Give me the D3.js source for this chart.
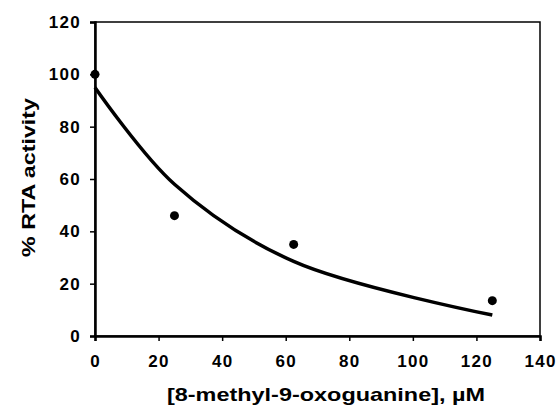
<!DOCTYPE html>
<html>
<head>
<meta charset="utf-8">
<script src="https://cdn.jsdelivr.net/npm/d3@7"></script>
<style>
  body { margin: 0; background: #fff; }
  svg text { font-family: "Liberation Sans", Arial, sans-serif; font-weight: bold; fill: #000; }
</style>
</head>
<body>
<svg id="chart"></svg>
<script>
// measured points
const conc = [0, 25, 62.5, 125];
const activity = [100, 46, 35, 13.5];
// fitted curve drawn through the same concentrations
const fitted = [95, 58, 28.5, 8];

const xTicks = [0, 20, 40, 60, 80, 100, 120, 140];
const yTicks = [0, 20, 40, 60, 80, 100, 120];

const svgWidth = 557;
const svgHeight = 410;
const margin = { top: 22, right: 17, bottom: 74, left: 95 };

const xScale = d3.scaleLinear()
    .domain([0, 140])
    .range([margin.left, svgWidth - margin.right]);

const yScale = d3.scaleLinear()
    .domain([0, 120])
    .range([svgHeight - margin.bottom, margin.top]);

const svg = d3.select("#chart")
    .attr("width", svgWidth)
    .attr("height", svgHeight);

// plot frame
svg.append("rect")
    .attr("x", xScale(0))
    .attr("y", yScale(120))
    .attr("width", xScale(140) - xScale(0))
    .attr("height", yScale(0) - yScale(120))
    .attr("fill", "none")
    .attr("stroke", "#000")
    .attr("stroke-width", 1.5);

const xAxis = svg.append("g")
    .attr("transform", `translate(0,${yScale(0)})`)
    .call(d3.axisBottom(xScale).tickValues(xTicks).tickSize(5).tickPadding(14));

const yAxis = svg.append("g")
    .attr("transform", `translate(${xScale(0)},0)`)
    .call(d3.axisLeft(yScale).tickValues(yTicks).tickSize(5).tickPadding(9));

[xAxis, yAxis].forEach(g => {
    g.select(".domain").attr("stroke-width", 2.5);
    g.selectAll(".tick line").attr("stroke-width", 1.5);
    g.selectAll(".tick text")
        .style("font-size", "17px")
        .style("letter-spacing", "1.3px")
        .style("font-family", "'Liberation Sans', Arial, sans-serif")
        .style("font-weight", "bold");
});

const line = d3.line()
    .x((d, i) => xScale(conc[i]))
    .y(d => yScale(d))
    .curve(d3.curveCatmullRom);

svg.append("path")
    .datum(fitted)
    .attr("fill", "none")
    .attr("stroke", "#000")
    .attr("stroke-width", 3.5)
    .attr("d", line);

svg.selectAll("circle.pt")
    .data(activity)
    .join("circle")
    .attr("class", "pt")
    .attr("cx", (d, i) => xScale(conc[i]))
    .attr("cy", d => yScale(d))
    .attr("r", 4.5)
    .attr("fill", "#000");

svg.append("text")
    .attr("x", 167)
    .attr("y", 401)
    .attr("textLength", 318)
    .attr("lengthAdjust", "spacingAndGlyphs")
    .style("font-size", "19px")
    .text("[8-methyl-9-oxoguanine], µM");

svg.append("text")
    .attr("transform", `translate(35,257) rotate(-90)`)
    .attr("textLength", 159)
    .attr("lengthAdjust", "spacingAndGlyphs")
    .style("font-size", "18px")
    .text("% RTA activity");
</script>
</body>
</html>
